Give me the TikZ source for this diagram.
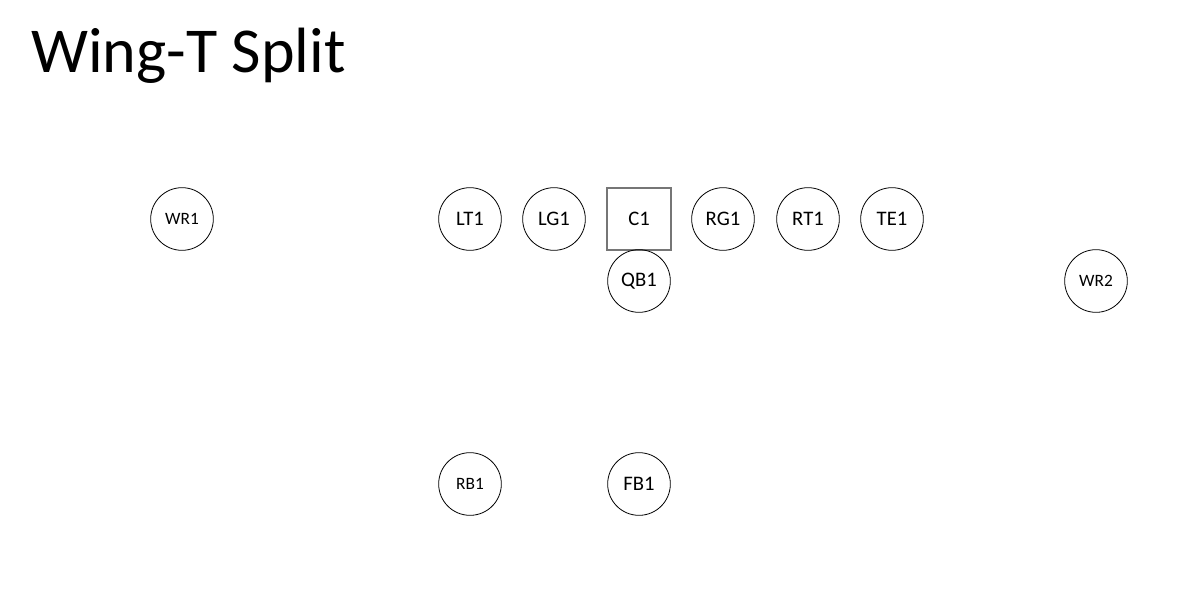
\documentclass[tikz,border=0pt]{standalone}
\usepackage{fontspec}
\setmainfont{Carlito}
\usetikzlibrary{positioning}
\definecolor{boxgrey}{RGB}{118,118,118}

\begin{document}
\begin{tikzpicture}[
  x=0.75pt, y=-0.75pt,
  player/.style={circle, draw=black, line width=0.6pt, minimum size=47pt,
                 inner sep=0pt, font=\fontsize{15.5}{17}\selectfont},
  wide/.style={player, font=\fontsize{13}{15}\selectfont},
  center/.style={rectangle, draw=boxgrey, line width=0.9pt, minimum width=48pt,
                 minimum height=46.5pt, inner sep=0pt, font=\fontsize{15.5}{17}\selectfont},
  heading/.style={anchor=base west, inner sep=0pt, font=\fontsize{48}{56}\selectfont}
]
\useasboundingbox (0,0) rectangle (1192,600);
\node[heading] (title) at (31,72) {Wing-T Split};

% line of scrimmage
\node[wide] (wr1) at (182,219) {WR1};
\node[player] (lt1) at (470,219) {LT1};
\node[player] (lg1) at (554,219) {LG1};
\node[center] (c1) at (639,219) {C1};
\node[player] (rg1) at (723,219) {RG1};
\node[player] (rt1) at (808,219) {RT1};
\node[player] (te1) at (892,219) {TE1};

% backfield
\node[player] (qb1) at (639,281) {QB1};
\node[wide] (wr2) at (1096,281) {WR2};
\node[wide] (rb1) at (470,484) {RB1};
\node[player] (fb1) at (639,484) {FB1};
\end{tikzpicture}
\end{document}
